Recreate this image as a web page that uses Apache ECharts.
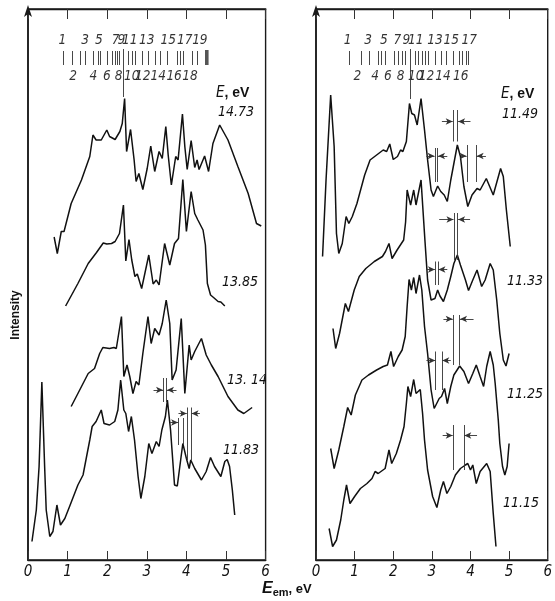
<!DOCTYPE html>
<html><head><meta charset="utf-8">
<script src="https://cdn.jsdelivr.net/npm/echarts/dist/echarts.min.js"></script>
<style>html,body{margin:0;padding:0;background:#fff}#c{width:555px;height:601px}</style>
</head><body><div id="c"></div>
<script>
// ---- data (x: emission energy, eV; y: intensity, arbitrary units) ----
const xTickLabels = ['0','1','2','3','4','5','6'];

const curve1473 = [[0.66,64.6],[0.74,61.3],[0.84,65.7],[0.91,65.7],[1.09,71.3],[1.35,76],[1.56,80.7],[1.64,85],[1.72,84],[1.85,84],[1.99,86],[2.06,84.7],[2.20,84.1],[2.32,85.7],[2.38,87.3],[2.44,92.3],[2.49,81.7],[2.59,86.1],[2.68,80],[2.73,75.7],[2.80,77.3],[2.90,74.1],[3.01,78.3],[3.10,82.8],[3.20,77.7],[3.31,81.7],[3.39,80.3],[3.48,86.7],[3.54,81],[3.62,75],[3.73,80.7],[3.79,80],[3.90,89.2],[3.96,82.7],[4.02,78.1],[4.12,83.9],[4.21,78.5],[4.27,80],[4.32,78.1],[4.46,80.8],[4.56,77.7],[4.67,83.3],[4.84,87],[5.05,84],[5.30,78.7],[5.56,73.3],[5.77,67.3],[5.89,66.8]];

const curve1385 = [[0.95,50.8],[1.26,55.3],[1.52,59.3],[1.73,61.5],[1.90,63.4],[1.99,63.2],[2.11,63.3],[2.20,63.7],[2.31,65.3],[2.41,71],[2.47,59.8],[2.55,64.1],[2.62,60],[2.70,56.7],[2.76,57.2],[2.87,54.3],[3.05,61],[3.16,55.2],[3.24,56],[3.31,55],[3.45,63.3],[3.58,59],[3.70,63.3],[3.80,64.3],[3.91,76.1],[4.00,65.7],[4.12,73.7],[4.21,69.3],[4.29,68],[4.42,66],[4.48,63],[4.53,55.3],[4.61,53],[4.70,52.4],[4.80,51.7],[4.87,51.6],[4.97,50.8]];

const curve1314 = [[1.09,30.7],[1.26,33.3],[1.52,37.3],[1.68,38.3],[1.81,41.3],[1.89,42.5],[2.06,42.3],[2.17,42.5],[2.23,42.3],[2.36,48.7],[2.42,36.7],[2.50,39],[2.57,36.7],[2.65,33.3],[2.73,35.7],[2.80,35],[2.90,41.3],[3.03,48.7],[3.11,43.3],[3.20,46.3],[3.31,45],[3.39,47.3],[3.49,52],[3.58,47.3],[3.64,36],[3.74,38],[3.87,48.3],[3.96,33.3],[4.07,43],[4.12,40],[4.21,41.7],[4.38,44.3],[4.50,41],[4.63,39],[4.80,36.7],[5.05,32.7],[5.30,30],[5.45,29.3],[5.66,30.5]];

const curve1183 = [[0.10,3.7],[0.21,10],[0.28,18.7],[0.35,35.6],[0.42,18.7],[0.46,10],[0.55,4.7],[0.63,5.7],[0.73,11],[0.82,7],[0.93,8.3],[1.05,10.7],[1.26,15],[1.39,17],[1.47,20.3],[1.56,24],[1.62,26.7],[1.72,27.7],[1.85,30],[1.92,27.3],[2.06,27],[2.19,27.7],[2.27,30],[2.34,36],[2.42,30],[2.47,29.3],[2.54,25.7],[2.61,28.7],[2.69,24],[2.78,16.7],[2.85,12.3],[2.95,16.7],[3.05,23.3],[3.13,21.3],[3.24,23.7],[3.31,22.7],[3.38,26],[3.47,28.7],[3.52,32],[3.60,26],[3.70,15],[3.77,14.8],[3.86,20.3],[3.91,23.3],[4.00,20.3],[4.07,18.3],[4.11,20],[4.21,18.3],[4.38,16],[4.50,17.7],[4.61,20.5],[4.71,18.7],[4.87,16.7],[4.97,19.7],[5.03,20.1],[5.09,18.7],[5.16,14],[5.22,9]];

const curve1149 = [[0.17,60.7],[0.26,76],[0.38,93],[0.47,82.7],[0.53,65.3],[0.59,61.3],[0.68,63.3],[0.78,68.7],[0.85,67.3],[0.94,68.7],[1.06,71.3],[1.26,77],[1.40,80],[1.57,81],[1.74,82],[1.83,81.7],[1.91,83.2],[2.00,80.1],[2.11,80.7],[2.19,82],[2.25,81.7],[2.34,83.7],[2.42,91.3],[2.48,89.3],[2.55,89],[2.62,87],[2.72,92.3],[2.81,86],[2.89,80],[2.98,74],[3.04,72.7],[3.15,74.8],[3.23,73.7],[3.32,73],[3.40,71.7],[3.49,76],[3.57,79.3],[3.66,83],[3.74,80.7],[3.83,74.7],[3.93,70.7],[4.04,73],[4.17,74.3],[4.25,74],[4.41,76.3],[4.59,73],[4.78,78.3],[4.85,76.7],[4.93,70],[5.03,62.7]];

const curve1133 = [[0.44,46.3],[0.51,42.3],[0.61,45.3],[0.76,51.3],[0.84,49.7],[0.99,54],[1.12,56.7],[1.29,58.3],[1.51,59.7],[1.72,60.7],[1.80,61.7],[1.89,63.3],[1.97,60.3],[2.10,62],[2.27,64],[2.32,67.6],[2.36,74],[2.45,71],[2.53,74],[2.59,71],[2.72,76],[2.82,64],[2.89,56],[2.98,52],[3.08,52.3],[3.15,54],[3.21,52.8],[3.30,51.7],[3.40,54],[3.49,56.7],[3.57,59.3],[3.66,61],[3.74,59],[3.87,56],[3.95,53.9],[4.06,56],[4.17,58],[4.29,54.7],[4.38,56],[4.51,59.3],[4.59,58],[4.68,52],[4.76,45.3],[4.85,40],[4.92,38.8],[5.00,41.3]];

const curve1125 = [[0.38,22.3],[0.47,18.3],[0.59,22],[0.72,26.7],[0.82,30.5],[0.91,29],[1.02,33],[1.19,36],[1.36,37],[1.57,38],[1.74,38.7],[1.85,39],[1.94,41.7],[2.01,38.7],[2.13,40.7],[2.23,42],[2.31,44.7],[2.36,50.7],[2.41,56.1],[2.47,54],[2.53,56.5],[2.59,53.3],[2.68,57],[2.74,54],[2.81,46.7],[2.89,41.3],[2.98,34],[3.06,30.3],[3.19,32.3],[3.25,32.7],[3.33,34.3],[3.40,31.3],[3.49,34.7],[3.57,37],[3.72,38.8],[3.83,37.7],[3.95,35.3],[4.06,37.3],[4.15,39],[4.25,36.7],[4.34,34.7],[4.42,38.7],[4.51,41.7],[4.59,39],[4.64,35.3],[4.72,28],[4.76,23.3],[4.83,18.7],[4.89,17],[4.95,18.7],[5.00,23.3]];

const curve1115 = [[0.34,6.3],[0.43,2.7],[0.53,4],[0.64,8],[0.72,12],[0.79,15],[0.88,11.3],[1.00,12.7],[1.15,14.3],[1.32,15.3],[1.45,16.3],[1.53,17.7],[1.61,17.3],[1.79,18.3],[1.89,22],[1.96,19.3],[2.08,21.3],[2.19,24],[2.28,26.7],[2.34,31.3],[2.38,34.7],[2.45,32.7],[2.53,36.1],[2.59,33.3],[2.70,34.1],[2.76,29.3],[2.81,24],[2.89,18],[3.02,12.7],[3.13,10.5],[3.23,14],[3.30,15.7],[3.39,13.3],[3.49,14.7],[3.61,17],[3.74,18.3],[3.87,19],[3.93,19.3],[4.00,18],[4.06,19],[4.15,15.3],[4.25,17.7],[4.42,19.3],[4.51,17.7],[4.59,9.3],[4.66,2.7]];

// line-marker positions (eV) in the comb at the top of each panel
const leftLines = [0.88,1.11,1.31,1.44,1.64,1.77,1.82,1.99,2.12,2.20,2.25,2.30,2.53,2.63,2.70,2.88,3.03,3.21,3.33,3.51,3.76,3.84,3.91,4.14,4.27];
const leftMainLine = 2.41;
const rightLines = [0.87,1.17,1.38,1.62,1.68,1.80,2.02,2.13,2.23,2.31,2.57,2.65,2.74,2.82,2.91,3.08,3.25,3.38,3.55,3.72,3.80,3.89,3.93];
const rightMainLine = 2.44;
const leftTopNums = [['1',0.87],['3',1.44],['5',1.79],['7',2.21],['9',2.36],['11',2.57],['13',3.00],['15',3.54],['17',3.96],['19',4.34]];
const leftBotNums = [['2',1.14],['4',1.65],['6',1.99],['8',2.29],['10',2.62],['12',2.90],['14',3.29],['16',3.69],['18',4.09]];
const rightTopNums = [['1',0.82],['3',1.35],['5',1.76],['7',2.11],['9',2.34],['11',2.58],['13',3.08],['15',3.50],['17',3.97]];
const rightBotNums = [['2',1.07],['4',1.53],['6',1.86],['8',2.19],['10',2.58],['12',2.86],['14',3.29],['16',3.75]];

// resolution markers: [x1, x2, yTop, yBottom, yArrow, arrowFromLeft, arrowFromRight]
const leftMarks = [[3.42,3.50,36.4,31.6,34,3.17,3.75],[3.80,3.91,28.4,23,27.5,3.59,null],[4.02,4.12,30.5,20,29.3,3.80,4.34]];
const rightMarks = [[3.55,3.67,90,83.7,87.7,3.26,4.00],[3.08,3.15,82.4,75.6,80.8,2.86,3.40],[3.91,4.15,83,75.6,80.8,3.80,4.40],
  [3.57,3.67,69.4,60,68.1,3.19,3.99],[3.09,3.16,59.7,55,58.1,2.86,3.40],
  [3.55,3.72,49,39,48.2,3.30,4.08],[3.10,3.26,41.7,34,39.9,2.86,3.49],
  [3.55,3.83,27,18,24.9,3.28,4.17]];

// ---- chart ----
const FONT_N = "'DejaVu Sans Condensed','Liberation Sans Narrow',sans-serif";
const chart = echarts.init(document.getElementById('c'), null, {renderer:'canvas'});
const Y_MAX = 110.2;
const grids = [
  {left:28, top:9, width:237.6, height:551, show:true, borderColor:'#1a1a1a', borderWidth:1.4, backgroundColor:'transparent'},
  {left:316, top:9, width:235.2, height:551, show:true, borderColor:'#1a1a1a', borderWidth:1.4, backgroundColor:'transparent'}
];
const xAxes = [], yAxes = [];
[0,1].forEach(g=>{
  xAxes.push({gridIndex:g, type:'value', min:0, max:6, interval:1, position:'bottom',
    axisLine:{show:true, lineStyle:{color:'#1a1a1a', width:1.4}},
    axisTick:{show:true, inside:true, length:9, lineStyle:{color:'#333', width:1}},
    axisLabel:{show:true, margin:5, fontSize:15, fontStyle:'italic', fontFamily:FONT_N, color:'#111',
      formatter:v=>xTickLabels[Math.round(v)]},
    splitLine:{show:false}});
  xAxes.push({gridIndex:g, type:'value', min:0, max:6, interval:1, position:'top',
    axisLine:{show:true, lineStyle:{color:'#1a1a1a', width:1.4}},
    axisTick:{show:true, inside:true, length:10, lineStyle:{color:'#333', width:1}},
    axisLabel:{show:false}, splitLine:{show:false}});
  yAxes.push({gridIndex:g, type:'value', min:0, max:Y_MAX,
    axisLine:{show:true, symbol:['none','arrow'], symbolSize:[6,12], symbolOffset:[0,4], lineStyle:{color:'#1a1a1a', width:1.6}},
    axisTick:{show:false}, axisLabel:{show:false}, splitLine:{show:false}});
});

function curve(data, g){
  return {type:'line', xAxisIndex:g*2, yAxisIndex:g, data:data, showSymbol:false, symbol:'none',
    lineStyle:{color:'#111', width:1.5}, animation:false, silent:true, z:3};
}
function seg(x1,y1,x2,y2){ return [{coord:[x1,y1]},{coord:[x2,y2]}]; }
function combSeries(g, lines, mainLine, mainBottom, marks, hatch){
  const d = lines.map(x=>seg(x,101.8,x,99));
  d.push(seg(mainLine,102.2,mainLine,mainBottom));
  marks.forEach(m=>{
    d.push(seg(m[0],m[2],m[0],m[3]));
    d.push(seg(m[1],m[2],m[1],m[3]));
  });
  const arrows = [];
  marks.forEach(m=>{
    if(m[5]!=null) arrows.push(seg(m[5],m[4],m[0]-0.01,m[4]));
    if(m[6]!=null) arrows.push(seg(m[6],m[4],m[1]+0.01,m[4]));
  });
  const s = [{type:'line', xAxisIndex:g*2, yAxisIndex:g, data:[], silent:true, animation:false,
    markLine:{silent:true, animation:false, symbol:['none','none'], label:{show:false},
      lineStyle:{color:'#333', width:0.9, type:'solid'}, data:d}},
   {type:'line', xAxisIndex:g*2, yAxisIndex:g, data:[], silent:true, animation:false,
    markLine:{silent:true, animation:false, symbol:['none','arrow'], symbolSize:[5,7], label:{show:false},
      lineStyle:{color:'#333', width:0.9, type:'solid'}, data:arrows}}];
  if(hatch){
    s.push({type:'line', xAxisIndex:g*2, yAxisIndex:g, data:[], silent:true, animation:false,
      markArea:{silent:true, itemStyle:{color:'#555'}, data:[[{coord:[hatch[0],99]},{coord:[hatch[1],102]}]]}});
  }
  return s;
}
function numSeries(g, nums, y){
  return {type:'scatter', xAxisIndex:g*2, yAxisIndex:g, symbolSize:0, silent:true, animation:false,
    data:nums.map(n=>[n[1],y,n[0]]),
    label:{show:true, position:'inside', formatter:p=>p.value[2], fontSize:13.5, fontStyle:'italic',
      fontFamily:FONT_N, color:'#000'}};
}

const series = [
  curve(curve1473,0), curve(curve1385,0), curve(curve1314,0), curve(curve1183,0),
  curve(curve1149,1), curve(curve1133,1), curve(curve1125,1), curve(curve1115,1),
  ...combSeries(0, leftLines, leftMainLine, 92.6, leftMarks, [4.47,4.56]),
  ...combSeries(1, rightLines, rightMainLine, 92.2, rightMarks, null),
  numSeries(0, leftTopNums, 104), numSeries(0, leftBotNums, 96.8),
  numSeries(1, rightTopNums, 104), numSeries(1, rightBotNums, 96.8)
];

function lbl(x,y,t){ return {type:'text', left:x, top:y, silent:true,
  style:{text:t, font:"italic 14px "+FONT_N, fill:'#111'}}; }
function eHead(x,y){ return {type:'text', left:x, top:y, silent:true,
  style:{text:'{i|E}{b|, eV}', rich:{i:{fontStyle:'italic', fontSize:15, fontFamily:FONT_N, fill:'#111'},
    b:{fontWeight:'bold', fontSize:14, fontFamily:"'Liberation Sans',sans-serif", fill:'#111'}}}}; }

chart.setOption({
  animation:false,
  backgroundColor:'#ffffff',
  grid:grids, xAxis:xAxes, yAxis:yAxes, series:series,
  graphic:[
    eHead(216,86), lbl(218,105,'14.73'),
    lbl(222,275,'13.85'), lbl(227,373,'13. 14'), lbl(223,443,'11.83'),
    eHead(501,87), lbl(502,107,'11.49'),
    lbl(507,274,'11.33'), lbl(507,387,'11.25'), lbl(503,496,'11.15'),
    {type:'text', x:16, y:315, rotation:Math.PI/2, silent:true,
      style:{text:'Intensity', font:"bold 12px 'Liberation Sans',sans-serif", fill:'#111', align:'center', verticalAlign:'middle'}},
    {type:'text', left:262, top:581, silent:true,
      style:{text:'{e|E}{s|em}{b|, eV}', rich:{
        e:{fontWeight:'bold', fontStyle:'italic', fontSize:16, fontFamily:"'Liberation Sans',sans-serif", fill:'#111'},
        s:{fontWeight:'bold', fontSize:11, fontFamily:"'Liberation Sans',sans-serif", fill:'#111', padding:[7,0,0,0]},
        b:{fontWeight:'bold', fontSize:13, fontFamily:"'Liberation Sans',sans-serif", fill:'#111'}}}}
  ]
});
</script></body></html>
